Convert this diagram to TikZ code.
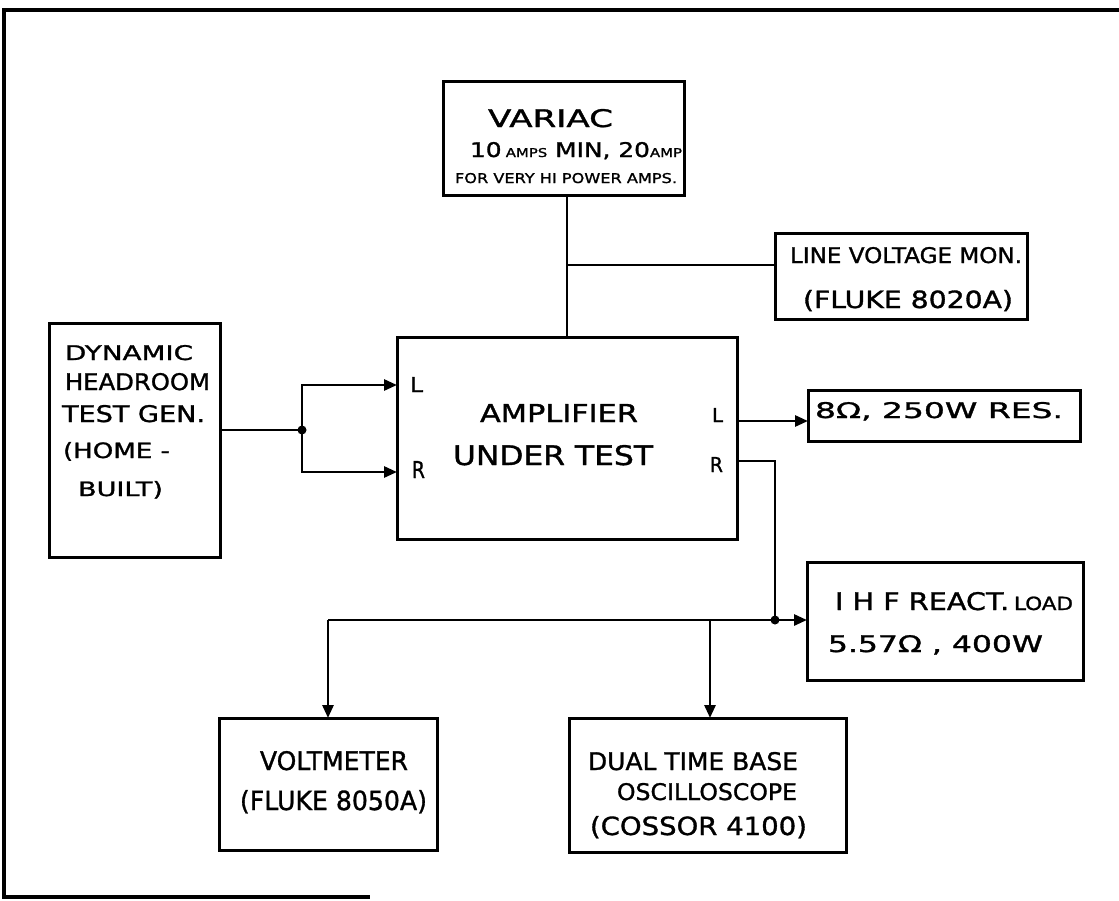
\documentclass[tikz,border=0pt]{standalone}
\usepackage{fontspec}
\setmainfont{DejaVu Sans}[FakeBold=1.2]
\usetikzlibrary{arrows.meta}
\newcommand\fit[3]{\resizebox{#1pt}{#2pt}{#3}}
\tikzset{
  box/.style={draw, line width=3pt, rectangle, inner sep=0pt, outer sep=0pt},
  wire/.style={line width=2.8pt},
  arr/.style={wire, -{Triangle[length=13pt,width=11pt]}},
  lbl/.style={inner sep=0pt, outer sep=0pt, anchor=base west},
  dot/.style={circle, fill, inner sep=0pt, minimum size=9pt},
  frame/.style={line width=3.2pt}
}
\begin{document}
\begin{tikzpicture}[x=1pt,y=-1pt]
\useasboundingbox (0,0) rectangle (1119,900);
% frame
\draw[frame] (1119,10) -- (4,10) -- (4,897) -- (370,897);

% boxes
\node[box, minimum width=241pt, minimum height=114pt] (variac) at (563.5,138) {};
\node[box, minimum width=252pt, minimum height=86pt]  (lvm)    at (901,276)   {};
\node[box, minimum width=171pt, minimum height=234pt] (dyn)    at (134.5,440) {};
\node[box, minimum width=340pt, minimum height=202pt] (amp)    at (567,438)   {};
\node[box, minimum width=272pt, minimum height=51pt]  (res)    at (944,415.5) {};
\node[box, minimum width=276pt, minimum height=118pt] (ihf)    at (945,621)   {};
\node[box, minimum width=218pt, minimum height=132pt] (vm)     at (328,784)   {};
\node[box, minimum width=277pt, minimum height=134pt] (osc)    at (707.5,785) {};

% texts
\node[lbl] (t-variac) at (488,127) {\fit{125}{18}{VARIAC}};
\node[lbl] (t-amps) at (470,157) {\fit{212}{15}{10\,{\fontsize{6}{6}\selectfont AMPS} MIN, 20{\fontsize{6}{6}\selectfont AMP}}};
\node[lbl] (t-hi) at (455,183) {\fit{222}{10}{FOR VERY HI POWER AMPS.}};

\node[lbl] (t-lvm1) at (790,263) {\fit{232}{16}{LINE VOLTAGE MON.}};
\node[lbl] (t-lvm2) at (803,308) {\fit{210}{18}{(FLUKE 8020A)}};

\node[lbl] (t-dyn1) at (65,360) {\fit{128}{15}{DYNAMIC}};
\node[lbl] (t-dyn2) at (65,390) {\fit{145}{17}{HEADROOM}};
\node[lbl] (t-dyn3) at (62,422) {\fit{143}{17}{TEST GEN.}};
\node[lbl] (t-dyn4) at (63,458) {\fit{107}{16}{(HOME -}};
\node[lbl] (t-dyn5) at (78,496) {\fit{85}{15}{BUILT)}};

\node[lbl] (t-amp1) at (480,422) {\fit{158}{18}{AMPLIFIER}};
\node[lbl] (t-amp2) at (453,465) {\fit{200}{20}{UNDER TEST}};
\node[lbl] (t-inL)  at (410,392) {\fit{13}{15}{L}};
\node[lbl] (t-inR)  at (412,478) {\fit{13}{17}{R}};
\node[lbl] (t-outL) at (712,422) {\fit{11}{14}{L}};
\node[lbl] (t-outR) at (710,472) {\fit{13}{15}{R}};

\node[lbl] (t-res) at (815,418) {\fit{248}{16}{8Ω, 250W RES.}};
\node[lbl] (t-ihf1) at (835,610) {\fit{238}{18}{I H F REACT.\,{\fontsize{7.5}{7.5}\selectfont LOAD}}};
\node[lbl] (t-ihf2) at (828,652) {\fit{215}{17}{5.57Ω , 400W}};

\node[lbl] (t-vm1) at (260,770) {\fit{148}{19}{VOLTMETER}};
\node[lbl] (t-vm2) at (240,810) {\fit{187}{20}{(FLUKE 8050A)}};

\node[lbl] (t-osc1) at (588,770) {\fit{210}{18}{DUAL TIME BASE}};
\node[lbl] (t-osc2) at (617,800) {\fit{180}{17}{OSCILLOSCOPE}};
\node[lbl] (t-osc3) at (590,835) {\fit{217}{19}{(COSSOR 4100)}};

% helper coordinates
\coordinate (tap) at (567,265);
\coordinate (j1) at (302,430);
\coordinate (yL) at (0,385);
\coordinate (yR) at (0,472);
\coordinate (yOL) at (0,421);
\coordinate (yOR) at (0,461);
\coordinate (j2) at (775,620);
\coordinate (j3) at (710,620);
\coordinate (j4) at (328,620);

% connectors
\draw[wire] (variac.south -| amp.north) -- (amp.north);
\draw[wire] (tap) -- (tap -| lvm.west);

\draw[wire] (dyn.east |- j1) -- (j1);
\draw[arr] (j1) |- (amp.west |- yL);
\draw[arr] (j1) |- (amp.west |- yR);
\node[dot] at (j1) {};

\draw[arr] (amp.east |- yOL) -- (res.west |- yOL);
\draw[wire] (amp.east |- yOR) -| (j2);
\draw[arr] (j2) -- (ihf.west |- j2);
\node[dot] at (j2) {};

\draw[wire] (j2) -- (j4);
\draw[arr] (j4) -- (vm.north);
\draw[arr] (j3) -- (j3 |- osc.north);
\end{tikzpicture}
\end{document}
